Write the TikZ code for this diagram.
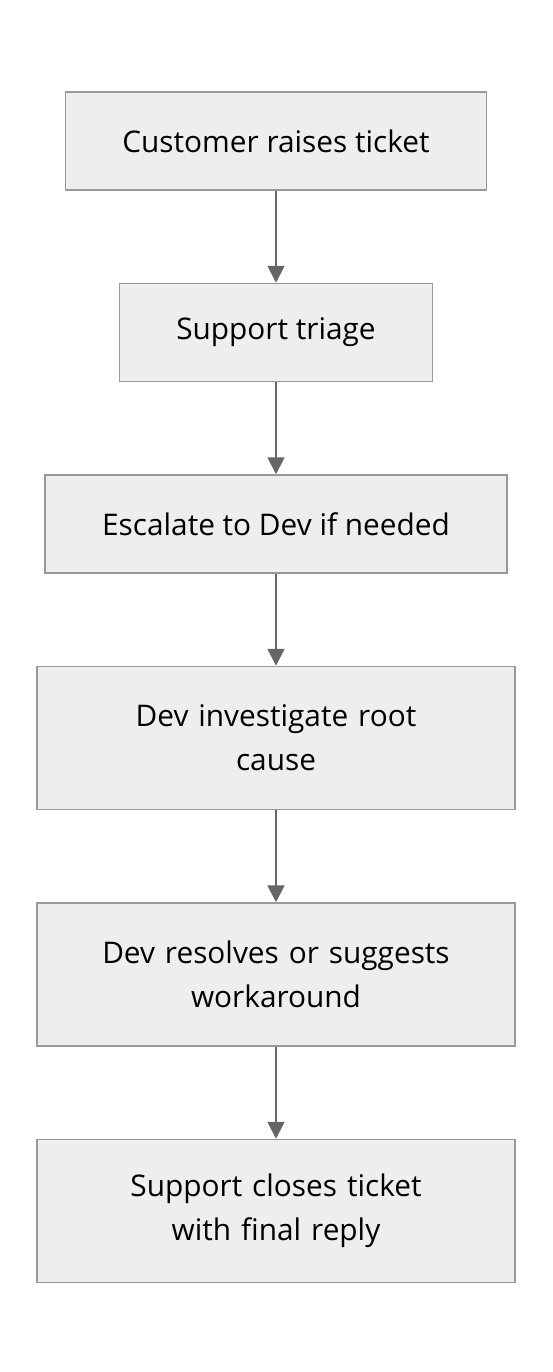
\documentclass[tikz,border=0pt]{standalone}
\usepackage{fontspec}
\setmainfont{Open Sans}
\usetikzlibrary{positioning, arrows.meta}
\definecolor{boxfill}{HTML}{EEEEEE}
\definecolor{boxline}{HTML}{999999}
\definecolor{arrowline}{HTML}{666666}
\tikzstyle{stepbox} = [rectangle, draw=boxline, line width=1.5pt, fill=boxfill, inner xsep=57pt, minimum height=98pt, text centered, align=center, font=\fontsize{29.8}{44}\selectfont, text=black]
\tikzstyle{widebox} = [stepbox, text width=364pt, minimum height=143pt]
\tikzstyle{arrow} = [line width=2pt, draw=arrowline, -{Triangle[length=17pt, width=17pt]}]

\begin{document}
\begin{tikzpicture}[node distance=92pt]
\useasboundingbox (0,0) rectangle (552pt,-1372pt);

\node (ticket) [stepbox] at (276pt,-141pt) {Customer raises ticket};
\node (triage) [stepbox, below=of ticket] {Support triage};
\node (escalate) [stepbox, below=of triage] {Escalate to Dev if needed};
\node (investigate) [widebox, below=of escalate] {Dev investigate root\\cause};
\node (resolve) [widebox, below=of investigate] {Dev resolves or suggests\\workaround};
\node (close) [widebox, below=of resolve] {Support closes ticket\\with final reply};

\draw [arrow] (ticket) -- (triage);
\draw [arrow] (triage) -- (escalate);
\draw [arrow] (escalate) -- (investigate);
\draw [arrow] (investigate) -- (resolve);
\draw [arrow] (resolve) -- (close);

\end{tikzpicture}
\end{document}
